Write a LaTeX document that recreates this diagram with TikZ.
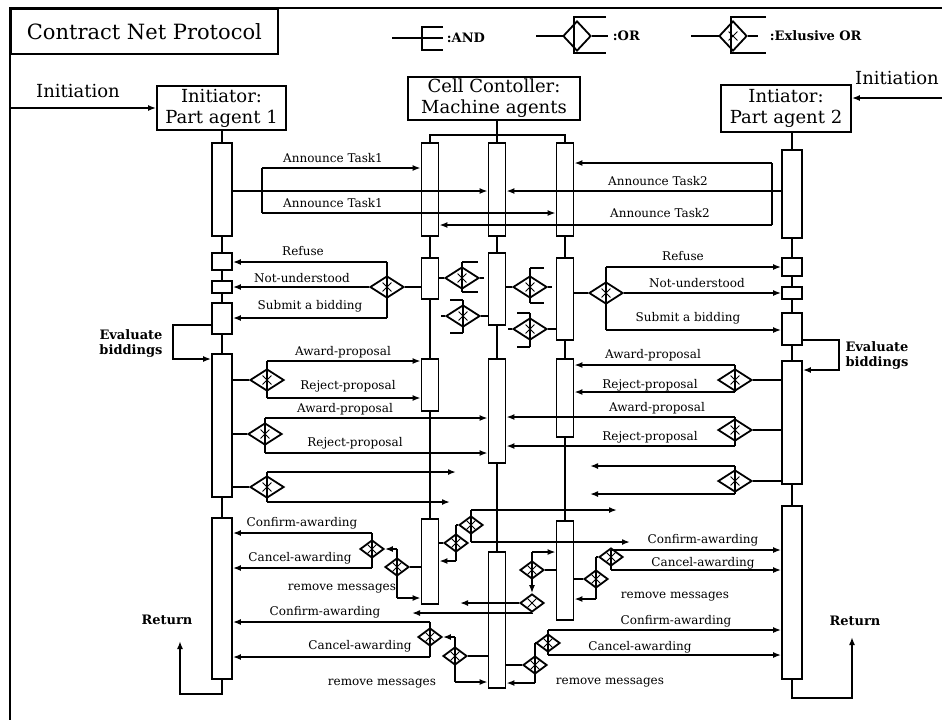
\documentclass[tikz,border=0pt]{standalone}
\usepackage{fontspec}
\setmainfont{DejaVu Serif}
\usetikzlibrary{shapes.geometric,arrows.meta}

% activation bar: [width]{name}{x}{top}{bottom}
\newcommand{\lbar}[5][8.5pt]{%
  \node[lbar, minimum width=#1, minimum height={(#5-#4)*0.5pt}] (#2) at (#3,{(#4+#5)/2}) {};}
% gateway: [style]{name}{x}{y}{bracket top}{bracket bottom}
\newcommand{\gate}[6][xbig]{%
  \coordinate (#2t) at (#3,#5);
  \coordinate (#2b) at (#3,#6);
  \draw (#2t) -- (#2b);
  \node[#1] (#2) at (#3,#4) {};}

\begin{document}
\begin{tikzpicture}[x=0.5pt, y=-0.5pt, line width=0.9pt,
    lbar/.style={rectangle, draw, inner sep=0pt},
    box/.style={rectangle, draw, align=center, inner sep=1pt, font=\fontsize{9}{10.5}\selectfont},
    xmark/.style={path picture={\draw[line width=0.5pt]
        (path picture bounding box.center) ++(-2.2pt,-2.2pt) -- ++(4.4pt,4.4pt)
        (path picture bounding box.center) ++(-2.2pt,2.2pt) -- ++(4.4pt,-4.4pt);}},
    xbig/.style={diamond, draw, minimum width=17pt, minimum height=11pt, inner sep=0pt, xmark},
    xsmall/.style={diamond, draw, minimum width=12pt, minimum height=9pt, inner sep=0pt, xmark},
    msg/.style={-{Latex[length=4pt,width=3pt]}},
    lbl/.style={inner sep=0pt, font=\fontsize{6}{7}\selectfont},
    blbl/.style={inner sep=0pt, font=\fontsize{6.5}{7.5}\selectfont\bfseries},
    big/.style={inner sep=0pt, font=\fontsize{9}{10.5}\selectfont}
]
\useasboundingbox (0,0) rectangle (942,720);

% frame, title, legend
\draw (942,8) -- (10,8) -- (10,720);
\node[box, font=\fontsize{10.5}{12}\selectfont, minimum width=133.5pt, minimum height=22.5pt, anchor=north west] (title) at (10,8) {Contract Net Protocol};

\draw (392,38) -- (443,38) (443,27) -| (422,50) -- (443,50);
\node[blbl, anchor=west] (legand) at (446,38) {:AND};
\draw (536,36) -- (564,36) (606,17) -| (574,53) -- (606,53);
\node[diamond, draw, minimum width=14pt, minimum height=15pt, inner sep=0pt] (legor) at (577,36) {};
\draw (legor.east) -- (608,36);
\node[blbl, anchor=west] (legortxt) at (612,36) {:OR};
\draw (691,36) -- (720,36) (766,17) -| (731,53) -- (766,53);
\node[diamond, draw, minimum width=14pt, minimum height=15pt, inner sep=0pt, xmark] (legxor) at (733,36) {};
\draw (legxor.east) -- (758,36);
\node[blbl, anchor=west] (legxortxt) at (769,36) {:Exlusive OR};

% heads
\node[box, minimum width=64.5pt, minimum height=22pt] (ini1) at (221.5,108) {Initiator:\\Part agent 1};
\node[box, minimum width=86pt, minimum height=21.5pt] (ctrl) at (494,98.5) {Cell Contoller:\\Machine agents};
\node[box, minimum width=65pt, minimum height=23.5pt] (ini2) at (786,108.5) {Intiator:\\Part agent 2};
\coordinate (in1) at (10,108);
\coordinate (in2) at (942,98);
\draw[msg] (in1) -- (ini1);
\draw[msg] (in2) -- (ini2.east |- in2);
\node[big] (init1) at (78,91) {Initiation};
\node[big] (init2) at (897,78) {Initiation};

% activation bars
\lbar[10pt]{pa1a}{222}{143}{236}
\lbar[10pt]{pa1b}{222}{253}{270}
\lbar[10pt]{pa1c}{222}{281}{293}
\lbar[10pt]{pa1d}{222}{303}{334}
\lbar[10pt]{pa1e}{222}{354}{497}
\lbar[10pt]{pa1f}{222}{518}{679}
\lbar{c1a}{430}{143}{236}
\lbar{c1b}{430}{258}{299}
\lbar{c1c}{430}{359}{411}
\lbar{c1d}{430}{519}{604}
\lbar{c2a}{497}{143}{236}
\lbar{c2b}{497}{253}{325}
\lbar{c2c}{497}{359}{463}
\lbar{c2d}{497}{552}{688}
\lbar{c3a}{565}{143}{236}
\lbar{c3b}{565}{258}{340}
\lbar{c3c}{565}{359}{437}
\lbar{c3d}{565}{521}{620}
\lbar[10pt]{pa2a}{792}{150}{238}
\lbar[10pt]{pa2b}{792}{258}{276}
\lbar[10pt]{pa2c}{792}{287}{299}
\lbar[10pt]{pa2d}{792}{313}{345}
\lbar[10pt]{pa2e}{792}{361}{484}
\lbar[10pt]{pa2f}{792}{506}{679}

% lifelines
\draw (ini1.south -| pa1a) -- (pa1a);
\draw (ini2.south -| pa2a) -- (pa2a);
\draw (ctrl.south -| c2a) -- (c2a);
\coordinate (cspl) at (497,135);
\draw (c1a) |- (cspl) -| (c3a);
\foreach \a/\b in {pa1a/pa1b,pa1b/pa1c,pa1c/pa1d,pa1d/pa1e,pa1e/pa1f,
                   c1a/c1b,c1b/c1c,c1c/c1d,c2a/c2b,c2b/c2c,c2c/c2d,
                   c3a/c3b,c3b/c3c,c3c/c3d,
                   pa2a/pa2b,pa2b/pa2c,pa2c/pa2d,pa2d/pa2e,pa2e/pa2f}
  \draw (\a) -- (\b);

% announce tasks
\coordinate (and1t) at (262,168);
\coordinate (and1) at (262,191);
\coordinate (and1b) at (262,213);
\draw (and1t) -- (and1b);
\draw[msg] (pa1a.east |- and1) -- (c2a.west |- and1);
\draw[msg] (and1t) -- (c1a.west |- and1t);
\draw[msg] (and1b) -- (c3a.west |- and1b);
\node[lbl] (ann1) at (333,158) {Announce Task1};
\node[lbl] (ann2) at (333,203) {Announce Task1};
\coordinate (and2t) at (772,163);
\coordinate (and2) at (772,191);
\coordinate (and2b) at (772,225);
\draw (and2t) -- (and2b);
\draw[msg] (pa2a.west |- and2) -- (c2a.east |- and2);
\draw[msg] (and2t) -- (c3a.east |- and2t);
\draw[msg] (and2b) -- (c1a.east |- and2b);
\node[lbl] (ann3) at (658,181) {Announce Task2};
\node[lbl] (ann4) at (660,213) {Announce Task2};

% answers
\gate{g1}{387}{287}{262}{318}
\draw (c1b.west |- g1) -- (g1);
\draw[msg] (g1t) -- (pa1b.east |- g1t);
\draw[msg] (g1) -- (pa1c.east |- g1);
\draw[msg] (g1b) -- (pa1d.east |- g1b);
\node[lbl] (ref1) at (303,251) {Refuse};
\node[lbl] (not1) at (302,278) {Not-understood};
\node[lbl] (sub1) at (310,306) {Submit a bidding};
\gate{g2}{606}{293}{267}{330}
\draw (c3b.east |- g2) -- (g2);
\draw[msg] (g2t) -- (pa2b.west |- g2t);
\draw[msg] (g2) -- (pa2c.west |- g2);
\draw[msg] (g2b) -- (pa2d.west |- g2b);
\node[lbl] (ref2) at (683,256) {Refuse};
\node[lbl] (not2) at (697,283) {Not-understood};
\node[lbl] (sub2) at (688,318) {Submit a bidding};

% machine agents among themselves
\gate{m1}{462}{278}{262}{292}
\draw (c1b.east |- m1) -- (m1);
\draw (m1t) -- ++(16,0) (m1b) -- ++(16,0) (m1.east) -- ++(4,0);
\gate{m2}{463}{316}{300}{333}
\draw (m2) -- (c2b.west |- m2);
\draw (m2t) -- ++(-13,0) (m2b) -- ++(-13,0) (m2.west) -- ++(-4,0);
\gate{m3}{530}{287}{268}{303}
\draw (c2b.east |- m3) -- (m3);
\draw (m3t) -- ++(14,0) (m3b) -- ++(14,0) (m3.east) -- ++(4,0);
\gate{m4}{530}{329}{313}{347}
\draw (m4) -- (c3b.west |- m4);
\draw (m4t) -- ++(-13,0) (m4b) -- ++(-13,0) (m4.west) -- ++(-4,0);

% evaluate biddings
\coordinate (ev1) at (173,325);
\coordinate (ev1b) at (173,359);
\draw[msg] (pa1d.west |- ev1) -- (ev1) -- (ev1b) -- (pa1e.west |- ev1b);
\node[blbl, align=center] (eval1) at (131,343) {Evaluate\\biddings};
\coordinate (ev2) at (839,340);
\coordinate (ev2b) at (839,370);
\draw[msg] (pa2d.east |- ev2) -- (ev2) -- (ev2b) -- (pa2e.east |- ev2b);
\node[blbl, align=center] (eval2) at (877,355) {Evaluate\\biddings};

% proposals from part agent 1
\gate{g3}{267}{380}{361}{398}
\draw (pa1e.east |- g3) -- (g3);
\draw[msg] (g3t) -- (c1c.west |- g3t);
\draw[msg] (g3b) -- (c1c.west |- g3b);
\node[lbl] (aw1) at (343,352) {Award-proposal};
\node[lbl] (rj1) at (348,386) {Reject-proposal};
\gate{g4}{265}{434}{418}{453}
\draw (pa1e.east |- g4) -- (g4);
\draw[msg] (g4t) -- (c2c.west |- g4t);
\draw[msg] (g4b) -- (c2c.west |- g4b);
\node[lbl] (aw2) at (345,409) {Award-proposal};
\node[lbl] (rj2) at (355,443) {Reject-proposal};
\gate{g5}{267}{487}{472}{502}
\coordinate (e1) at (456,472);
\coordinate (e2) at (450,502);
\draw (pa1e.east |- g5) -- (g5);
\draw[msg] (g5t) -- (e1);
\draw[msg] (g5b) -- (e2);

% proposals from part agent 2
\gate{g6}{735}{380}{365}{392}
\draw (pa2e.west |- g6) -- (g6);
\draw[msg] (g6t) -- (c3c.east |- g6t);
\draw[msg] (g6b) -- (c3c.east |- g6b);
\node[lbl] (aw3) at (653,355) {Award-proposal};
\node[lbl] (rj3) at (650,385) {Reject-proposal};
\gate{g7}{735}{430}{417}{446}
\draw (pa2e.west |- g7) -- (g7);
\draw[msg] (g7t) -- (c2c.east |- g7t);
\draw[msg] (g7b) -- (c2c.east |- g7b);
\node[lbl] (aw4) at (657,408) {Award-proposal};
\node[lbl] (rj4) at (650,437) {Reject-proposal};
\gate{g8}{735}{481}{466}{494}
\coordinate (e3) at (590,466);
\coordinate (e4) at (590,494);
\draw (pa2e.west |- g8) -- (g8);
\draw[msg] (g8t) -- (e3);
\draw[msg] (g8b) -- (e4);

% awarding, left of the machine agents
\gate[xsmall]{l2}{372}{549}{533}{568}
\draw[msg] (l2t) -- (pa1f.east |- l2t);
\draw[msg] (l2b) -- (pa1f.east |- l2b);
\gate[xsmall]{l1}{397}{567}{549}{598}
\draw (c1d.west |- l1) -- (l1);
\draw[msg] (l1t) -- (l2);
\draw[msg] (l1b) -- (c1d.west |- l1b);
\node[lbl] (cf1) at (302,523) {Confirm-awarding};
\node[lbl] (cn1) at (300,558) {Cancel-awarding};
\node[lbl] (rm1) at (342,589) {remove messages};
\gate[xsmall]{l4}{430}{637}{622}{657}
\draw[msg] (l4t) -- (pa1f.east |- l4t);
\draw[msg] (l4b) -- (pa1f.east |- l4b);
\gate[xsmall]{l3}{455}{656}{637}{682}
\draw (c2d.west |- l3) -- (l3);
\draw[msg] (l3t) -- (l4);
\draw[msg] (l3b) -- (c2d.west |- l3b);
\node[lbl] (cf2) at (325,612) {Confirm-awarding};
\node[lbl] (cn2) at (360,646) {Cancel-awarding};
\node[lbl] (rm2) at (382,684) {remove messages};

% awarding, inside the machine agents
\gate[xsmall]{r2}{471}{525}{510}{542}
\gate[xsmall]{r1}{456}{543}{525}{561}
\coordinate (e5) at (617,510);
\coordinate (e6) at (630,542);
\draw (c1d.east |- r1) -- (r1);
\draw (r1t) -- (r2);
\draw[msg] (r1b) -- (c1d.east |- r1b);
\draw[msg] (r2t) -- (e5);
\draw[msg] (r2b) -- (e6);
\gate[xsmall]{f1}{532}{570}{552}{585}
\node[xsmall] (f2) at (532,603) {};
\coordinate (e7) at (460,603);
\coordinate (e8) at (412,613);
\draw (f1) -- (c3d.west |- f1);
\draw[msg] (f1t) -- (c3d.west |- f1t);
\draw[msg] (f1b) -- (f2);
\draw[msg] (f2) -- (e7);
\draw[msg] (f2.south) |- (e8);

% awarding, right of the machine agents
\gate[xsmall]{d1}{611}{557}{550}{570}
\draw[msg] (d1t) -- (pa2f.west |- d1t);
\draw[msg] (d1b) -- (pa2f.west |- d1b);
\gate[xsmall]{d2}{596}{579}{557}{599}
\draw (c3d.east |- d2) -- (d2);
\draw (d2t) -- (d1);
\draw[msg] (d2b) -- (c3d.east |- d2b);
\node[lbl] (cf3) at (703,540) {Confirm-awarding};
\node[lbl] (cn3) at (703,563) {Cancel-awarding};
\node[lbl] (rm3) at (675,597) {remove messages};
\gate[xsmall]{h2}{548}{643}{630}{655}
\draw[msg] (h2t) -- (pa2f.west |- h2t);
\draw[msg] (h2b) -- (pa2f.west |- h2b);
\gate[xsmall]{h1}{535}{665}{643}{683}
\draw (c2d.east |- h1) -- (h1);
\draw (h1t) -- (h2);
\draw[msg] (h1b) -- (c2d.east |- h1b);
\node[lbl] (cf4) at (676,621) {Confirm-awarding};
\node[lbl] (cn4) at (640,647) {Cancel-awarding};
\node[lbl] (rm4) at (610,683) {remove messages};

% return
\coordinate (ret1) at (180,641);
\draw[msg] (pa1f.south) -- ++(0,14) -| (ret1);
\node[blbl] (rt1) at (167,620) {Return};
\coordinate (ret2) at (852,637);
\draw[msg] (pa2f.south) -- ++(0,18) -| (ret2);
\node[blbl] (rt2) at (855,621) {Return};
\end{tikzpicture}
\end{document}
